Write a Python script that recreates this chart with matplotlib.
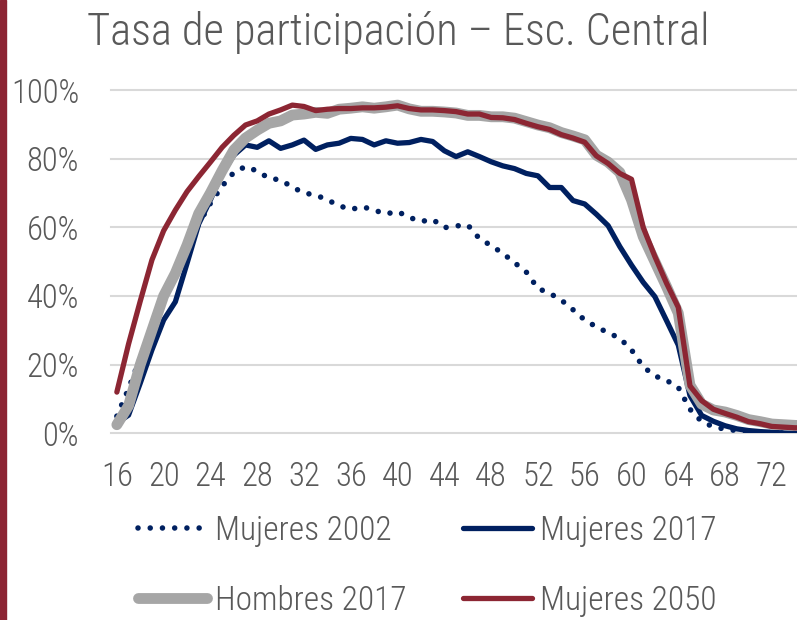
import matplotlib
matplotlib.use("Agg")
import matplotlib.pyplot as plt
from matplotlib import font_manager
from matplotlib.lines import Line2D
from matplotlib.ticker import FuncFormatter

# ---------------- data ----------------
ages = list(range(16, 76))

mujeres_2002 = [0.05, 0.13, 0.22, 0.31, 0.40, 0.47, 0.54, 0.61, 0.67, 0.72,
                0.76, 0.777, 0.764, 0.743, 0.738, 0.717, 0.700, 0.694, 0.680, 0.663,
                0.652, 0.660, 0.650, 0.639, 0.646, 0.629, 0.617, 0.623, 0.599, 0.604,
                0.607, 0.567, 0.547, 0.524, 0.497, 0.470, 0.422, 0.408, 0.388, 0.360,
                0.330, 0.310, 0.293, 0.277, 0.243, 0.194, 0.167, 0.154, 0.134, 0.070,
                0.034, 0.019, 0.012, 0.008, 0.005, 0.003, 0.002, 0.001, 0.000, 0.000]

mujeres_2017 = [0.030, 0.053, 0.146, 0.243, 0.330, 0.383, 0.495, 0.610, 0.680, 0.757,
                0.810, 0.840, 0.833, 0.852, 0.830, 0.840, 0.854, 0.827, 0.840, 0.845,
                0.859, 0.856, 0.840, 0.852, 0.845, 0.847, 0.856, 0.850, 0.823, 0.806,
                0.820, 0.806, 0.791, 0.779, 0.771, 0.757, 0.750, 0.716, 0.716, 0.678,
                0.668, 0.638, 0.605, 0.544, 0.490, 0.440, 0.398, 0.328, 0.257, 0.110,
                0.052, 0.035, 0.022, 0.013, 0.008, 0.005, 0.003, 0.001, 0.000, 0.000]

hombres_2017 = [0.025, 0.080, 0.200, 0.300, 0.400, 0.466, 0.548, 0.640, 0.700, 0.765,
                0.825, 0.860, 0.883, 0.903, 0.910, 0.927, 0.930, 0.935, 0.932, 0.944,
                0.947, 0.951, 0.947, 0.951, 0.956, 0.945, 0.938, 0.938, 0.936, 0.933,
                0.926, 0.926, 0.922, 0.922, 0.918, 0.908, 0.898, 0.890, 0.876, 0.866,
                0.855, 0.810, 0.790, 0.760, 0.680, 0.573, 0.500, 0.427, 0.350, 0.140,
                0.085, 0.068, 0.062, 0.052, 0.040, 0.034, 0.027, 0.025, 0.023, 0.022]

mujeres_2050 = [0.120, 0.260, 0.385, 0.505, 0.590, 0.650, 0.704, 0.748, 0.790, 0.833,
                0.868, 0.898, 0.910, 0.930, 0.942, 0.956, 0.952, 0.940, 0.944, 0.946,
                0.946, 0.948, 0.948, 0.950, 0.954, 0.946, 0.942, 0.942, 0.940, 0.937,
                0.930, 0.930, 0.920, 0.919, 0.914, 0.903, 0.893, 0.885, 0.870, 0.860,
                0.848, 0.808, 0.786, 0.757, 0.740, 0.600, 0.515, 0.437, 0.367, 0.138,
                0.095, 0.070, 0.058, 0.047, 0.034, 0.028, 0.020, 0.018, 0.016, 0.016]

x_ticks = list(range(16, 73, 4))
y_ticks = [0, 0.2, 0.4, 0.6, 0.8, 1.0]
series_labels = ["Mujeres 2002", "Mujeres 2017", "Hombres 2017", "Mujeres 2050"]
title = "Tasa de participación – Esc. Central"

# ---------------- style ----------------
available = {f.name for f in font_manager.fontManager.ttflist}
family = "DejaVu Sans"
for cand in ["Roboto Condensed", "Liberation Sans Narrow", "Open Sans Condensed",
             "Arial Narrow", "Liberation Sans"]:
    if cand in available:
        family = cand
        break
plt.rcParams["font.family"] = [family, "DejaVu Sans"]
plt.rcParams["font.weight"] = "light"

TXT = "#595959"
NAVY = "#002060"
RED = "#8C2633"
GRAY = "#A6A6A6"
GRID = "#D9D9D9"

W, H = 797, 620
fig = plt.figure(figsize=(W / 100, H / 100), dpi=100)
ax = fig.add_axes([111 / W, (H - 433.3) / H, 1 - 111 / W, (433.3 - 90) / H])

DOT = (0, (0.001, 2.2))
ax.plot(ages, mujeres_2002, color=NAVY, lw=4.0, linestyle=DOT,
        dash_capstyle="round", zorder=3)
ax.plot(ages, mujeres_2017, color=NAVY, lw=3.8, solid_joinstyle="round",
        solid_capstyle="round", zorder=4)
ax.plot(ages, hombres_2017, color=GRAY, lw=7.8, solid_joinstyle="round",
        solid_capstyle="round", zorder=5)
ax.plot(ages, mujeres_2050, color=RED, lw=3.8, solid_joinstyle="round",
        solid_capstyle="round", zorder=6)

ax.set_xlim(15.5, 74.15)
ax.set_ylim(0, 1.0)
ax.set_xticks(x_ticks)
ax.set_yticks(y_ticks)
ax.yaxis.set_major_formatter(FuncFormatter(lambda v, p: f"{v*100:.0f}%"))
ax.tick_params(axis="both", length=0, labelsize=23.5, labelcolor=TXT)
ax.tick_params(axis="y", pad=23)
ax.tick_params(axis="x", pad=20)
ax.grid(axis="y", color=GRID, lw=1.5)
ax.set_axisbelow(True)
for s in ax.spines.values():
    s.set_visible(False)
for ln in ax.get_ygridlines():
    ln.set_clip_on(False)

fig.text(0.5, 1 - 45 / H, title, ha="center", va="baseline", fontsize=32, color=TXT)

# left decorative bar
fig.patches.append(plt.Rectangle((0, 0), 6 / W, 1, transform=fig.transFigure,
                                 color="#8C2433", zorder=0))

handles = [
    Line2D([], [], color=NAVY, lw=4.0, linestyle=DOT, dash_capstyle="round"),
    Line2D([], [], color=NAVY, lw=3.8, solid_capstyle="round"),
    Line2D([], [], color=GRAY, lw=7.8, solid_capstyle="round"),
    Line2D([], [], color=RED, lw=3.8, solid_capstyle="round"),
]
order = [0, 2, 1, 3]
leg = fig.legend([handles[i] for i in order], [series_labels[i] for i in order],
                 ncol=2, loc="upper left", bbox_to_anchor=(138 / W, 1 - 515 / H),
                 frameon=False, fontsize=24, labelcolor=TXT, borderpad=0,
                 borderaxespad=0, handlelength=2.07, handletextpad=0.24,
                 columnspacing=1.68, labelspacing=1.13)

fig.savefig("out.png", dpi=100)
